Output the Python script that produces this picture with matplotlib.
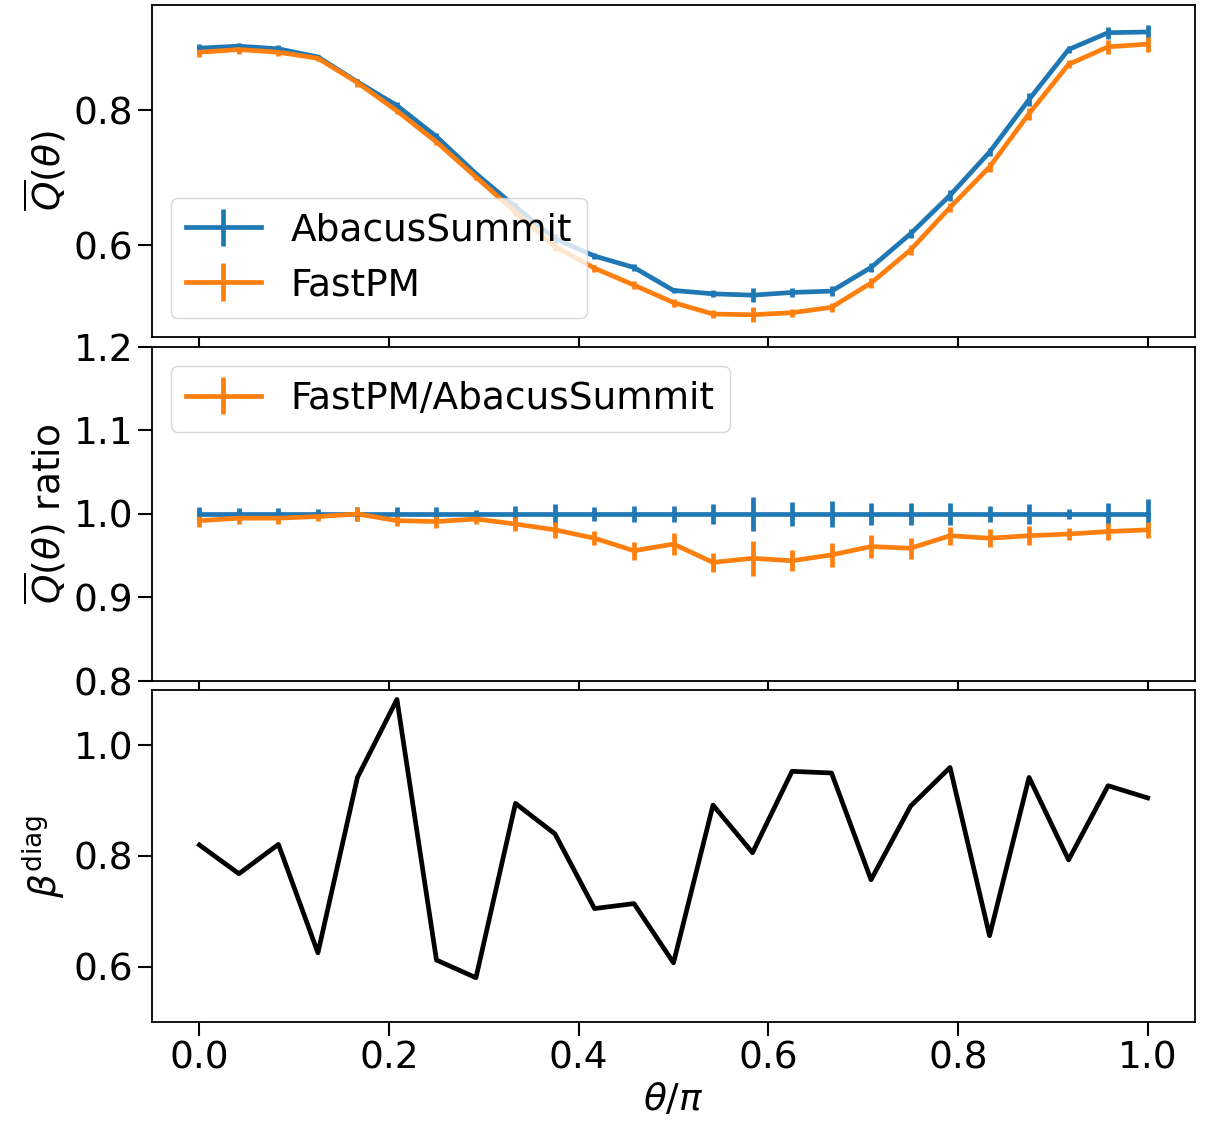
import numpy as np
import matplotlib
matplotlib.use("Agg")
import matplotlib.pyplot as plt

# ---- data ----
theta = np.linspace(0.0, 1.0, 25)  # theta/pi bin centres

q_abacus = [0.892, 0.895, 0.891, 0.879, 0.842, 0.807, 0.761, 0.706, 0.657, 0.610,
            0.584, 0.567, 0.533, 0.528, 0.526, 0.530, 0.532, 0.567, 0.617, 0.674,
            0.738, 0.816, 0.890, 0.915, 0.916]
q_abacus_err = [0.006, 0.005, 0.005, 0.003, 0.004, 0.005, 0.005, 0.003, 0.005, 0.006,
                0.004, 0.005, 0.004, 0.005, 0.010, 0.007, 0.007, 0.007, 0.007, 0.008,
                0.006, 0.009, 0.005, 0.009, 0.010]
q_fastpm = [0.886, 0.890, 0.886, 0.877, 0.841, 0.799, 0.753, 0.701, 0.649, 0.598,
            0.566, 0.541, 0.515, 0.498, 0.497, 0.500, 0.508, 0.544, 0.593, 0.656,
            0.716, 0.795, 0.868, 0.894, 0.898]
q_fastpm_err = [0.007, 0.006, 0.006, 0.004, 0.006, 0.005, 0.005, 0.004, 0.006, 0.006,
                0.005, 0.006, 0.006, 0.006, 0.011, 0.006, 0.007, 0.007, 0.007, 0.007,
                0.007, 0.009, 0.006, 0.010, 0.011]

ratio_ref = [1.0] * 25
ratio_ref_err = [0.0083, 0.0075, 0.0075, 0.0054, 0.0080, 0.0083, 0.0080, 0.0050, 0.0100, 0.0120,
                 0.0087, 0.0100, 0.0099, 0.0120, 0.0206, 0.0143, 0.0153, 0.0135, 0.0135, 0.0127,
                 0.0090, 0.0123, 0.0063, 0.0135, 0.0175]
ratio = [0.992, 0.995, 0.995, 0.997, 1.000, 0.992, 0.991, 0.994, 0.988, 0.981,
         0.971, 0.956, 0.964, 0.942, 0.947, 0.944, 0.951, 0.961, 0.959, 0.974,
         0.971, 0.974, 0.976, 0.979, 0.981]
ratio_err = [0.0080, 0.0070, 0.0070, 0.0050, 0.0080, 0.0065, 0.0073, 0.0056, 0.0087, 0.0099,
             0.0087, 0.0110, 0.0129, 0.0113, 0.0212, 0.0123, 0.0143, 0.0139, 0.0127, 0.0109,
             0.0105, 0.0115, 0.0069, 0.0099, 0.0093]

beta_diag = [0.820, 0.768, 0.821, 0.625, 0.942, 1.083, 0.612, 0.580, 0.895, 0.840,
             0.705, 0.714, 0.607, 0.892, 0.806, 0.953, 0.950, 0.757, 0.890, 0.960,
             0.656, 0.942, 0.793, 0.927, 0.905]

xticks = [0.0, 0.2, 0.4, 0.6, 0.8, 1.0]
xticklabels = ["0.0", "0.2", "0.4", "0.6", "0.8", "1.0"]

# ---- style ----
FS = 27
plt.rcParams.update({
    "font.size": FS,
    "axes.linewidth": 1.3,
    "xtick.major.size": 10,
    "ytick.major.size": 10,
    "xtick.major.width": 1.5,
    "ytick.major.width": 1.5,
    "xtick.labelsize": FS,
    "ytick.labelsize": FS,
    "legend.fontsize": FS,
    "mathtext.fontset": "dejavusans",
})

blue = "#1f77b4"
orange = "#ff7f0e"
LW = 3.4

fig = plt.figure(figsize=(12.06, 11.29), dpi=100)
W, H = 1206.0, 1129.0
left, right = 152 / W, 1195 / W


def rect(top_px, bot_px):
    return [left, 1 - bot_px / H, right - left, (bot_px - top_px) / H]


ax1 = fig.add_axes(rect(5, 337))
ax2 = fig.add_axes(rect(347, 681), sharex=ax1)
ax3 = fig.add_axes(rect(690, 1022), sharex=ax1)

# top panel
ax1.errorbar(theta, q_abacus, yerr=q_abacus_err, color=blue, lw=LW, elinewidth=LW,
             label="AbacusSummit")
ax1.errorbar(theta, q_fastpm, yerr=q_fastpm_err, color=orange, lw=LW, elinewidth=LW,
             label="FastPM")
ax1.set_ylim(0.464, 0.956)
ax1.set_yticks([0.6, 0.8])
ax1.set_ylabel(r"$\overline{Q}(\theta)$")
ax1.legend(loc="lower left")

# middle panel
ax2.errorbar(theta, ratio_ref, yerr=ratio_ref_err, color=blue, lw=LW, elinewidth=LW)
ax2.errorbar(theta, ratio, yerr=ratio_err, color=orange, lw=LW, elinewidth=LW,
             label="FastPM/AbacusSummit")
ax2.set_ylim(0.8, 1.2)
ax2.set_yticks([0.8, 0.9, 1.0, 1.1, 1.2])
ax2.set_ylabel(r"$\overline{Q}(\theta)$ ratio")
ax2.legend(loc="upper left")

# bottom panel
ax3.plot(theta, beta_diag, color="black", lw=LW)
ax3.set_ylim(0.5, 1.1)
ax3.set_yticks([0.6, 0.8, 1.0])
ax3.set_ylabel(r"$\beta^{\rm diag}$")
ax3.set_xticks(xticks)
ax3.set_xticklabels(xticklabels)
ax3.set_xlabel(r"$\theta/\pi$")

for ax in (ax1, ax2):
    ax.tick_params(labelbottom=False)

fig.align_ylabels([ax1, ax2, ax3])

fig.savefig("out.png", dpi=100)
